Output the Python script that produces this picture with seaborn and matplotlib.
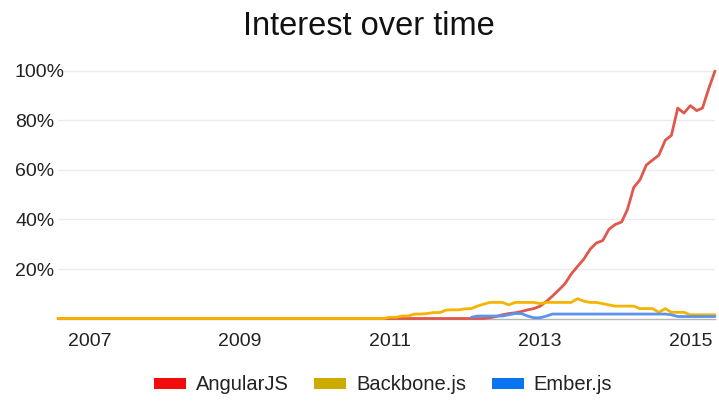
import matplotlib
matplotlib.use("Agg")
import matplotlib.pyplot as plt
import matplotlib.dates as mdates
from matplotlib.patches import Patch
import numpy as np
import pandas as pd
import seaborn as sns

# ---------------- data (monthly, Aug 2006 .. May 2015) ----------------
start_month = "2006-08-01"
n_months = 106
series_names = ["AngularJS", "Backbone.js", "Ember.js"]

angular = [
    0, 0, 0, 0, 0, 0, 0, 0, 0, 0, 0, 0, 0, 0, 0, 0, 0, 0, 0, 0,
    0, 0, 0, 0, 0, 0, 0, 0, 0, 0, 0, 0, 0, 0, 0, 0, 0, 0, 0, 0,
    0, 0, 0, 0, 0, 0, 0, 0, 0, 0, 0, 0, 0, 0, 0, 0, 0, 0, 0, 0,
    0, 0, 0, 0, 0, 0, 0, 0, 0,
    0.3, 0.8, 1.5, 2, 2.3, 2.8, 3.5, 4, 5, 7, 9, 11.5, 14, 18, 21, 24,
    28, 30.5, 31.5, 36, 38, 39, 44, 53, 56, 62, 64, 66, 72, 74, 85, 83,
    86, 84, 85, 93, 100,
]

backbone = [
    0, 0, 0, 0, 0, 0, 0, 0, 0, 0, 0, 0, 0, 0, 0, 0, 0, 0, 0, 0,
    0, 0, 0, 0, 0, 0, 0, 0, 0, 0, 0, 0, 0, 0, 0, 0, 0, 0, 0, 0,
    0, 0, 0, 0, 0, 0, 0, 0, 0, 0, 0, 0, 0,
    0.5, 0.5, 1, 1, 1.8, 1.8, 2, 2.4, 2.4, 3.4, 3.5, 3.5, 3.9, 4, 5, 5.8,
    6.5, 6.5, 6.5, 5.5, 6.5, 6.5, 6.5, 6.5, 6, 6.5, 6.5, 6.5, 6.5, 6.5,
    8, 7, 6.5, 6.5, 6, 5.5, 5, 5, 5, 5, 4, 4, 4, 2.5, 4, 2.5, 2.5, 2.5,
    1.5, 1.5, 1.5, 1.5, 1.5,
]

ember_first_index = 66  # Ember.js series begins in Feb 2012
ember = [
    0.5, 1, 1, 1, 1, 1, 1.5, 2, 2, 1, 0.3, 0.3, 1, 1.8,
    1.8, 1.8, 1.8, 1.8, 1.8, 1.8, 1.8, 1.8, 1.8, 1.8, 1.8, 1.8, 1.8, 1.8,
    1.8, 1.8, 1.8, 1.8,
    1.5, 0.8, 0.8, 0.8, 0.8, 0.8, 0.8, 0.8,
]

y_ticks = [20, 40, 60, 80, 100]
y_tick_labels = ["20%", "40%", "60%", "80%", "100%"]
x_tick_years = ["2007", "2009", "2011", "2013", "2015"]

line_colors = ["#e0574b", "#f4b400", "#5b93f0"]
legend_colors = ["#f20d0d", "#ccaa00", "#0a74f0"]

# ---------------- build long table ----------------
months = pd.date_range(start_month, periods=n_months, freq="MS")
df = pd.concat([
    pd.DataFrame({"date": months, "value": angular, "term": series_names[0]}),
    pd.DataFrame({"date": months, "value": backbone, "term": series_names[1]}),
    pd.DataFrame({"date": months[ember_first_index:], "value": ember,
                  "term": series_names[2]}),
], ignore_index=True)

# ---------------- plot ----------------
sns.set_theme(style="white")
plt.rcParams["font.family"] = ["Liberation Sans", "DejaVu Sans"]

W, H = 719, 403
fig = plt.figure(figsize=(W / 100, H / 100), dpi=100)
ax_left, ax_right = 58, 715
ax_bottom_px = 318.5
ymax = 102
px_per_unit = (318.5 - 71) / 100
ax_top_px = ax_bottom_px - ymax * px_per_unit
ax = fig.add_axes([ax_left / W, (H - ax_bottom_px) / H,
                   (ax_right - ax_left) / W, (ax_bottom_px - ax_top_px) / H])

sns.lineplot(data=df, x="date", y="value", hue="term",
             hue_order=series_names, palette=line_colors,
             linewidth=2.0, ax=ax, legend=False, estimator=None)
for ln in ax.get_lines():
    ln.set_clip_on(False)
    ln.set_solid_joinstyle("round")

ax.set_xlim(months[0], months[-1])
ax.set_ylim(0, ymax)
ax.set_xlabel("")
ax.set_ylabel("")

for s in ["top", "right", "left"]:
    ax.spines[s].set_visible(False)
ax.spines["bottom"].set_color("#b5b5b5")
ax.spines["bottom"].set_linewidth(1.0)
ax.spines["bottom"].set_zorder(0.5)

ax.set_yticks(y_ticks)
ax.set_yticklabels(y_tick_labels)
for v in y_ticks:
    ax.axhline(v, color="#ececec", linewidth=1.0, zorder=0)
ax.tick_params(axis="y", length=0, pad=43 * 0.72, labelsize=14, labelcolor="#222222")
for lab in ax.get_yticklabels():
    lab.set_horizontalalignment("left")

ax.set_xticks([pd.Timestamp(f"{y}-01-01") for y in x_tick_years])
ax.set_xticklabels(x_tick_years)
ax.tick_params(axis="x", length=0, pad=10.5, labelsize=14, labelcolor="#222222")
ax.grid(False)

fig.text(369 / W, (H - 35) / H, "Interest over time", ha="center",
         va="baseline", fontsize=23.5, color="#111111")

handles = [Patch(facecolor=c, edgecolor="none") for c in legend_colors]
fig.legend(handles, series_names, loc="center", ncol=3, frameon=False,
           bbox_to_anchor=(383 / W, (H - 385) / H), fontsize=14.5,
           handlelength=1.6, handleheight=0.45, handletextpad=0.5,
           columnspacing=1.25, labelcolor="#222222")

fig.savefig("out.png", dpi=100)
